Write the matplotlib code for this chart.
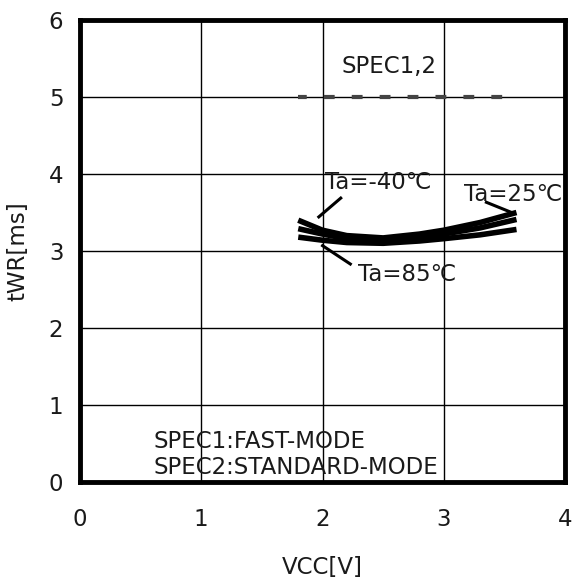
import numpy as np
import matplotlib
matplotlib.use("Agg")
import matplotlib.pyplot as plt

# supply voltage [V]
vcc = [1.8, 2.0, 2.2, 2.5, 2.8, 3.0, 3.3, 3.6]
# write cycle time [ms] per temperature
twr_m40 = [3.40, 3.27, 3.20, 3.17, 3.22, 3.27, 3.37, 3.50]
twr_25 = [3.29, 3.22, 3.16, 3.14, 3.18, 3.22, 3.30, 3.41]
twr_85 = [3.18, 3.14, 3.11, 3.10, 3.13, 3.16, 3.21, 3.28]
# spec limit
spec_x = [1.8, 3.6]
spec_y = [5.0, 5.0]

plt.rcParams["font.family"] = ["DejaVu Sans"]
fs = 16.5
tc = "#1a1a1a"

fig = plt.figure(figsize=(5.72, 5.82), dpi=100)
ax = fig.add_axes([80 / 572, 1 - 482 / 582, 485 / 572, 462 / 582])

ax.grid(True, color="black", linewidth=1.0)
ax.set_axisbelow(True)

ax.plot(spec_x, spec_y, color="#444444", linewidth=3, linestyle=(0.5, (2.6, 4.1)))
for ys in (twr_m40, twr_25, twr_85):
    ax.plot(vcc, ys, color="black", linewidth=4, solid_capstyle="butt")

ax.set_xlim(0, 4)
ax.set_ylim(0, 6)
ax.set_xticks([0, 1, 2, 3, 4])
ax.set_yticks([0, 1, 2, 3, 4, 5, 6])
ax.tick_params(axis="x", length=0, labelsize=fs, pad=19, colors=tc)
ax.tick_params(axis="y", length=0, labelsize=fs, pad=12, colors=tc)
for s in ax.spines.values():
    s.set_linewidth(3.5)

ax.set_xlabel("VCC[V]", fontsize=fs, labelpad=18, color=tc)
ax.set_ylabel("tWR[ms]", fontsize=fs, labelpad=14, color=tc)

# leader lines from labels to curves
lead = dict(color="black", linewidth=2.2, solid_capstyle="butt")
ax.plot([1.96, 2.16], [3.43, 3.70], **lead)
ax.plot([1.99, 2.24], [3.08, 2.82], **lead)
ax.plot([3.34, 3.56], [3.64, 3.50], **lead)

ax.text(2.02, 3.89, "Ta=-40℃", fontsize=fs, va="center", ha="left", color=tc)
ax.text(3.17, 3.73, "Ta=25℃", fontsize=fs, va="center", ha="left", color=tc)
ax.text(2.29, 2.69, "Ta=85℃", fontsize=fs, va="center", ha="left", color=tc)

ax.text(2.16, 5.4, "SPEC1,2", fontsize=fs, va="center", ha="left", color=tc)
ax.text(0.61, 0.52, "SPEC1:FAST-MODE", fontsize=fs, va="center", ha="left", color=tc)
ax.text(0.61, 0.19, "SPEC2:STANDARD-MODE", fontsize=fs, va="center", ha="left", color=tc)

fig.savefig("out.png", dpi=100)
